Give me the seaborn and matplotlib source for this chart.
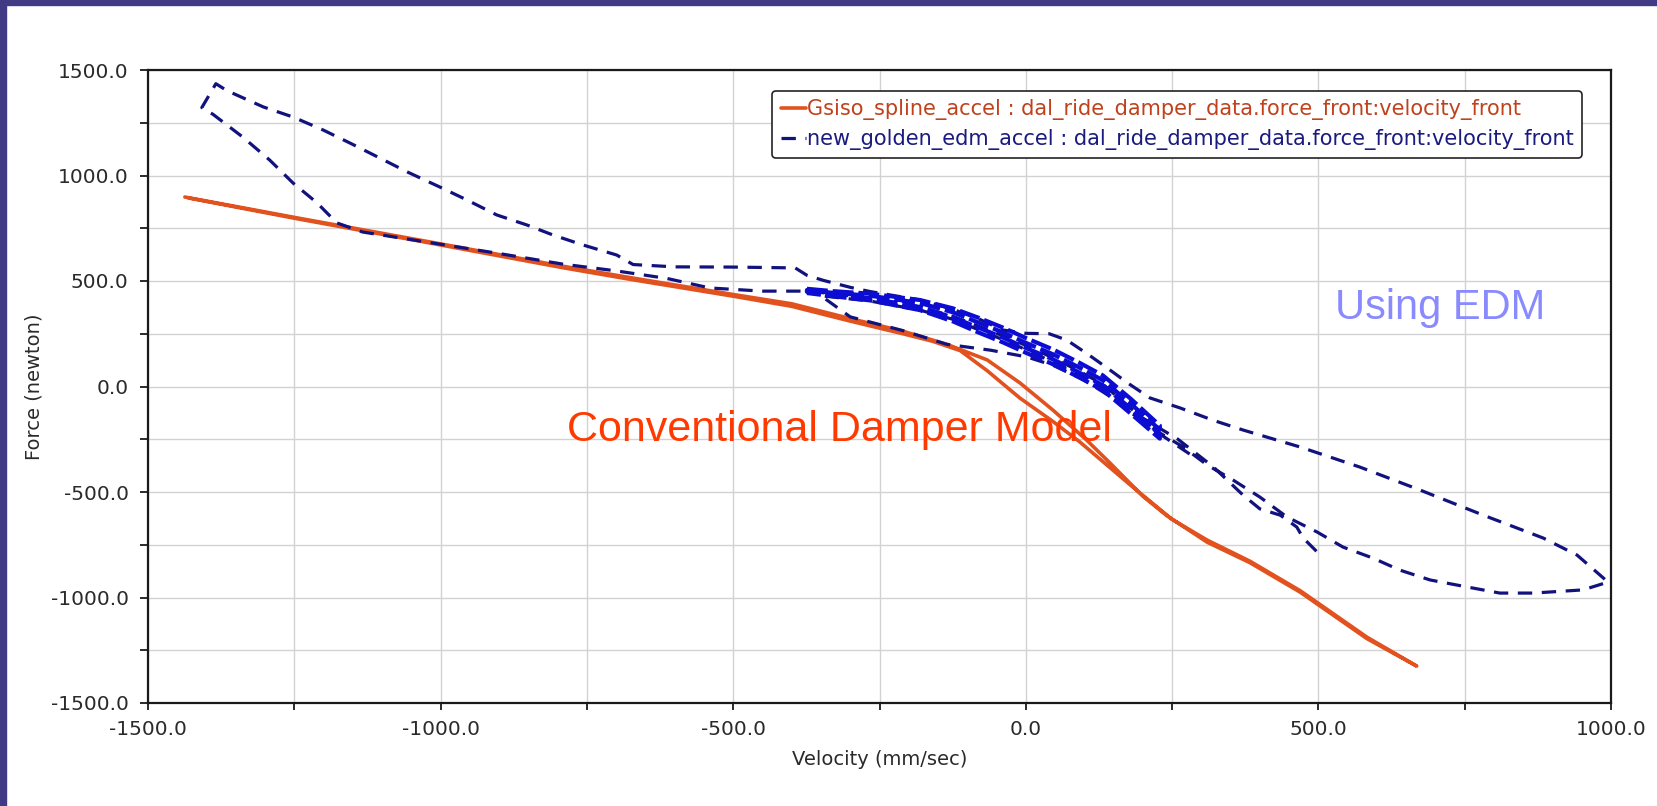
import numpy as np
import pandas as pd
import matplotlib
matplotlib.use("Agg")
import matplotlib.pyplot as plt
import seaborn as sns
from matplotlib.patches import Rectangle
from matplotlib.ticker import FixedLocator, FuncFormatter

# ---------------- data ----------------
LABEL_CONV = "Gsiso_spline_accel : dal_ride_damper_data.force_front:velocity_front"
LABEL_EDM = "new_golden_edm_accel : dal_ride_damper_data.force_front:velocity_front"

X_TICKS = [-1500, -1000, -500, 0, 500, 1000]
Y_TICKS = [-1500, -1000, -500, 0, 500, 1000, 1500]
MINOR_TICKS = [-1250, -750, -250, 250, 750, 1250]

# conventional damper model (thin hysteresis loop)
CONV_V = [-1437, -1245, -1018, -791, -676, -500, -400, -300, -210, -135, -66, -10, 46, 104, 144,
          200, 241, 310, 383, 469, 583, 668,
          583, 469, 383, 310, 250, 180, 92, 46, -10, -66, -112, -160, -210, -300, -400, -500,
          -676, -791, -1018, -1245, -1430]
CONV_F = [898, 799, 685, 570, 516, 436, 392, 322, 262, 200, 126, 17, -111, -254, -363,
          -520, -612, -738, -835, -975, -1195, -1325,
          -1188, -968, -828, -728, -630, -470, -262, -165, -55, 75, 170, 215, 250, 310, 380, 428,
          508, 563, 680, 795, 893]

# EDM model (one continuous path)
EDM_V = [280, 229, 180, 132, 90, 47, 0, -39, -80, -124, -181, -266, -330, -374,
         -450, -540, -613, -700, -791, -904, -1018, -1133, -1177, -1194, -1211, -1252, -1292, -1338, -1389, -1408,
         -1384, -1365, -1303, -1252, -1201, -1155, -1104, -1057, -1001, -955, -904, -852, -808, -757, -699, -671,
         -600, -500, -394, -374, -346,
         -300, -266, -181, -124, -80, -40,
         0, 40, 70, 105, 139, 175, 212, 264, 320, 371, 469, 571, 674, 781, 884, 942, 995,
         952, 867, 810, 754, 691, 639, 593, 542, 498, 446, 400, 354, 310, 269, 229,
         180, 132, 90, 47, 0, -39, -80, -124, -181, -266, -350,
         -300, -210, -135, -60, 2, 47, 100, 140, 200, 260, 320, 344, 371, 400, 435, 463, 474, 500]
EDM_F = [-320, -225, -105, 10, 75, 135, 195, 240, 285, 332, 378, 418, 440, 452,
         452, 467, 512, 548, 580, 632, 682, 732, 775, 822, 870, 964, 1073, 1182, 1290, 1322,
         1435, 1402, 1325, 1277, 1216, 1154, 1083, 1017, 945, 884, 813, 765, 718, 671, 623, 578,
         567, 566, 562, 527, 503,
         470, 450, 410, 365, 320, 268,
         252, 250, 220, 155, 88, 15, -54, -102, -160, -206, -287, -382, -491, -609, -718, -799, -927,
         -964, -979, -979, -950, -917, -870, -813, -761, -690, -618, -524, -443, -372, -287, -220,
         -125, -5, 55, 115, 175, 222, 268, 318, 362, 405, 430,
         330, 265, 200, 172, 140, 100, 30, -40, -150, -250, -380, -443, -514, -580, -610, -666, -718, -790]

# EDM model: the repeated cycles that form the dense band between -374 and 229 mm/s
BAND_V = [-374, -330, -266, -181, -124, -80, -39, 0, 47, 90, 132, 180, 229,
          229, 180, 132, 90, 47, 0, -39, -80, -124, -181, -266, -330, -374,
          -374, -330, -266, -181, -124, -80, -39, 0, 47, 90, 132, 180, 229,
          229, 180, 132, 90, 47, 0, -39, -80, -124, -181, -266, -330, -374]
BAND_F = [463, 452, 440, 410, 370, 325, 279, 230, 175, 115, 52, -60, -185,
          -205, -83, 29, 92, 152, 207, 256, 302, 351, 396, 430, 444, 457,
          449, 436, 418, 376, 327, 278, 232, 183, 128, 68, 5, -107, -227,
          -247, -130, -18, 45, 105, 160, 209, 255, 308, 362, 408, 428, 443]

# ---------------- styling ----------------
ORANGE = "#e2521f"
NAVY = "#12127f"
BAND_BLUE = "#0c0cd2"
FRAME = "#413b86"
DASH = (0, (4.5, 3))

sns.set_theme(style="white")
plt.rcParams['font.family'] = ['DejaVu Sans']

W, H = 1657, 806
fig = plt.figure(figsize=(W / 100, H / 100), dpi=100)
fig.patch.set_facecolor("white")
fig.add_artist(Rectangle((0, 0), 6 / W, 1, transform=fig.transFigure, color=FRAME, zorder=0))
fig.add_artist(Rectangle((0, 1 - 5 / H), 1, 5 / H, transform=fig.transFigure, color=FRAME, zorder=0))

ax = fig.add_axes([148 / W, 1 - 703 / H, 1463 / W, 633 / H])

conv = pd.DataFrame({"v": CONV_V, "f": CONV_F})
edm = pd.DataFrame({"v": EDM_V, "f": EDM_F})
band = pd.DataFrame({"v": BAND_V, "f": BAND_F})

sns.lineplot(data=conv, x="v", y="f", sort=False, estimator=None, color=ORANGE,
             lw=2.6, ax=ax, label=LABEL_CONV, zorder=3)
sns.lineplot(data=edm, x="v", y="f", sort=False, estimator=None, color=NAVY,
             lw=2.3, ax=ax, label=LABEL_EDM, zorder=4, linestyle=DASH)
sns.lineplot(data=band, x="v", y="f", sort=False, estimator=None, color=BAND_BLUE,
             lw=3.0, ax=ax, zorder=4, linestyle=(0, (5, 1.2)), legend=False)

ax.set_xlim(-1500, 1000)
ax.set_ylim(-1500, 1500)
ax.xaxis.set_major_locator(FixedLocator(X_TICKS))
ax.yaxis.set_major_locator(FixedLocator(Y_TICKS))
ax.xaxis.set_minor_locator(FixedLocator(MINOR_TICKS))
ax.yaxis.set_minor_locator(FixedLocator(MINOR_TICKS))
fmt = FuncFormatter(lambda v, p: f"{v:.1f}")
ax.xaxis.set_major_formatter(fmt)
ax.yaxis.set_major_formatter(fmt)

ax.grid(True, which="both", color="#d2d2d2", lw=1.0, zorder=0)
ax.set_axisbelow(True)
for s in ax.spines.values():
    s.set_color("#1a1a1a")
    s.set_linewidth(1.6)

ax.tick_params(axis="both", which="both", direction="out", color="#1a1a1a", width=1.3,
               labelsize=14.5, labelcolor="#2a2a2a")
ax.tick_params(axis="x", which="both", length=5, pad=7, bottom=True)
ax.tick_params(axis="y", which="both", length=6, pad=8, left=True)

ax.set_xlabel("Velocity (mm/sec)", fontsize=14, color="#2a2a2a")
ax.set_ylabel("Force (newton)", fontsize=14, color="#2a2a2a")
ax.xaxis.set_label_coords((880 - 148) / 1463, (703 - 750) / 633)
ax.yaxis.set_label_coords((44 - 148) / 1463, 0.5)

ax.text(-784, -258, "Conventional Damper Model", fontsize=31, color="#ff3a00",
        family=["Liberation Sans", "DejaVu Sans"], ha="left", va="baseline", zorder=6)
ax.text(528, 320, "Using EDM", fontsize=30, color="#8a8aff",
        family=["Liberation Sans", "DejaVu Sans"], ha="left", va="baseline", zorder=6)

leg = ax.legend(loc="upper right", bbox_to_anchor=(0.980, 0.967), fontsize=15,
                frameon=True, fancybox=True, edgecolor="#222222", framealpha=1,
                handlelength=1.2, handletextpad=0.05, borderpad=0.4, labelspacing=0.42,
                borderaxespad=0)
leg.get_frame().set_linewidth(1.2)
for t, c in zip(leg.get_texts(), ["#c0411c", "#1a1a80"]):
    t.set_color(c)

fig.savefig("out.png", dpi=100, facecolor=fig.get_facecolor())
